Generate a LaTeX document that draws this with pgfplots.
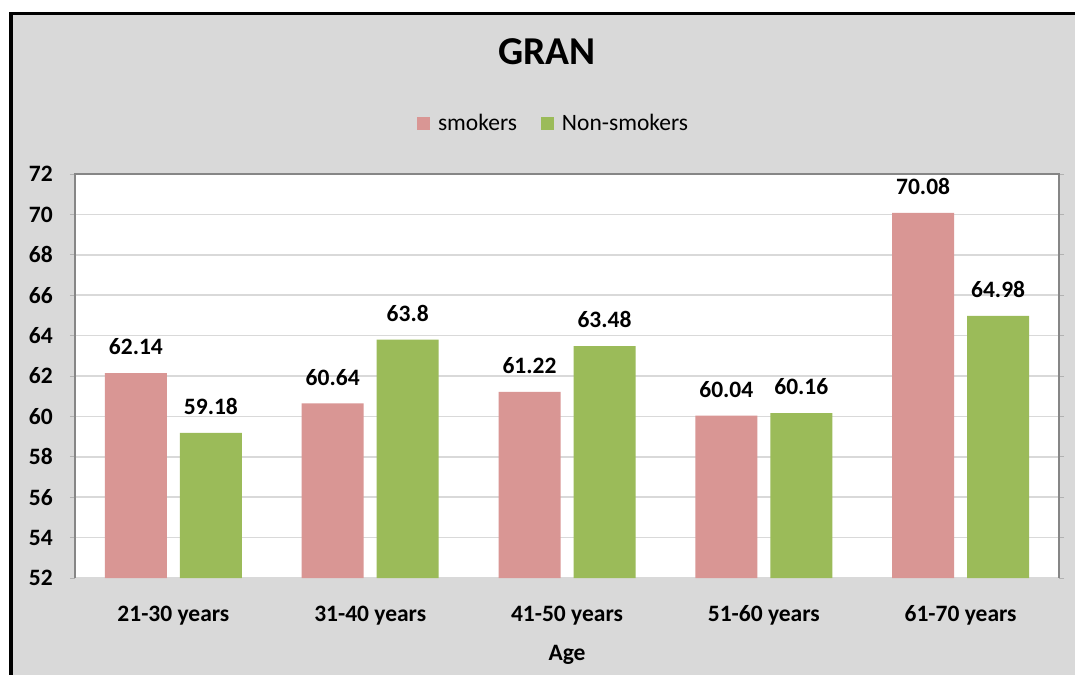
\documentclass[border=0pt]{standalone}
\usepackage{fontspec}
\setmainfont{Carlito}
\usepackage{pgfplots}
\pgfplotsset{compat=1.18}

\definecolor{chartbg}{RGB}{217,217,217}
\definecolor{smk}{RGB}{217,150,148}
\definecolor{nsmk}{RGB}{155,187,89}
\definecolor{gridc}{RGB}{217,217,217}
\definecolor{framec}{RGB}{134,134,134}

\newcommand{\lbl}{\fontsize{23.5}{28}\selectfont}

\begin{document}
\begin{tikzpicture}[x=1pt,y=1pt]
% page and chart area
\fill[white] (0,0) rectangle (1075,-675);
\fill[chartbg] (9,-12) rectangle (1075,-675);
\fill[black] (9,-12) rectangle (13,-675);
\fill[black] (9,-12) rectangle (1075,-15);

\begin{axis}[
    name=ax,
    at={(75pt,-578pt)}, anchor=south west,
    scale only axis, width=984pt, height=404pt,
    ybar=13pt, bar width=62pt,
    xmin=-0.5, xmax=4.5,
    ymin=52, ymax=72,
    xtick={0,1,2,3,4},
    xticklabels={21-30 years,31-40 years,41-50 years,51-60 years,61-70 years},
    ytick={52,54,...,72},
    /pgf/number format/assume math mode=true,
    axis background/.style={fill=white},
    axis line style={draw=none},
    ymajorgrids, grid style={gridc, line width=1.5pt},
    tick align=outside, major tick length=5pt,
    xtick style={draw=none},
    ytick style={draw=gray!60, line width=1pt},
    ticklabel style={font=\lbl\bfseries},
    xticklabel style={anchor=base, yshift=-38pt},
    yticklabel style={anchor=east, inner sep=0pt, xshift=-17pt},
    nodes near coords,
    every node near coord/.append style={font=\lbl\bfseries, inner sep=0pt, yshift=18pt},
    title={GRAN},
    title style={font=\fontsize{39.5}{44}\selectfont\bfseries, at={(0.4797,1.2574)}, anchor=base},
    xlabel={Age},
    xlabel style={font=\lbl\bfseries, at={(0.5,-0.203)}, anchor=base},
    legend style={at={(0.4863,1.125)}, anchor=center, draw=none, fill=none,
        legend columns=2, font=\lbl,
        /tikz/every odd column/.append style={column sep=6pt},
        /tikz/every even column/.append style={column sep=22pt}},
]
\addplot[fill=smk, draw=none,
    legend image code/.code={\fill[smk] (0pt,-6.5pt) rectangle (13pt,6.5pt);}]
    coordinates {(0,62.14) (1,60.64) (2,61.22) (3,60.04) (4,70.08)};
\addplot[fill=nsmk, draw=none,
    legend image code/.code={\fill[nsmk] (0pt,-6.5pt) rectangle (13pt,6.5pt);}]
    coordinates {(0,59.18) (1,63.8) (2,63.48) (3,60.16) (4,64.98)};
\legend{smokers, Non-smokers}
\end{axis}

% plot area frame (no bottom line)
\draw[framec, line width=2pt] (ax.south west) -- (ax.north west) -- (ax.north east) -- (ax.south east);

\pgfresetboundingbox
\path[use as bounding box] (0,0) rectangle (1075,-675);
\end{tikzpicture}
\end{document}
